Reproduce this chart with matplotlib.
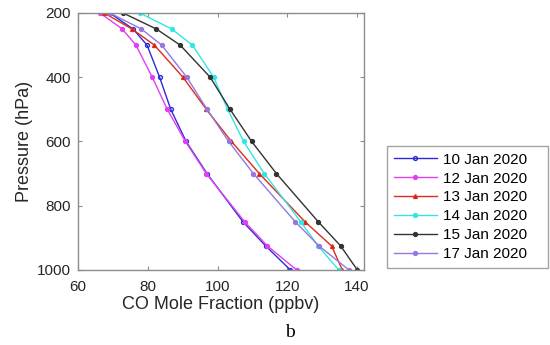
import matplotlib
matplotlib.use("Agg")
import matplotlib.pyplot as plt
import numpy as np

plt.rcParams['font.family'] = ['Liberation Sans', 'DejaVu Sans']

# pressure levels (hPa)
pressure = [200, 250, 300, 400, 500, 600, 700, 850, 925, 1000]

# CO mole fraction (ppbv) per day
co_10jan = [69.1, 75.8, 79.8, 83.4, 86.6, 91.0, 97.0, 107.3, 113.8, 120.9]
co_12jan = [66.3, 72.7, 76.6, 81.3, 85.6, 90.8, 96.8, 107.8, 114.3, 122.7]
co_13jan = [67.5, 75.5, 81.9, 90.1, 96.8, 104.0, 112.0, 125.1, 132.7, 135.8]
co_14jan = [77.7, 86.9, 92.8, 98.9, 102.9, 107.5, 113.4, 123.9, 128.8, 134.8]
co_15jan = [72.9, 82.5, 89.3, 97.9, 103.6, 109.8, 116.9, 128.9, 135.3, 140.1]
co_17jan = [69.1, 78.2, 84.0, 91.2, 97.0, 103.2, 110.3, 122.3, 129.1, 137.7]

labels = ['10 Jan 2020', '12 Jan 2020', '13 Jan 2020', '14 Jan 2020',
          '15 Jan 2020', '17 Jan 2020']
series = [co_10jan, co_12jan, co_13jan, co_14jan, co_15jan, co_17jan]
colors = ['#2b2bd9', '#e040f0', '#e02a1a', '#33e6e6', '#333333', '#9477e0']
markers = ['o', 'o', '^', 'o', 'o', 'o']
mfc = ['none', '#e040f0', '#8a2a10', '#33e6e6', '#333333', '#9477e0']

fig = plt.figure(figsize=(5.5, 3.45), dpi=100)
ax = fig.add_axes([0.1418, 0.2174, 0.52, 0.745])

for vals, lab, c, m, fc in zip(series, labels, colors, markers, mfc):
    ax.plot(vals, pressure, color=c, marker=m, markersize=2.8, lw=1.0,
            markerfacecolor=fc, markeredgecolor=c, label=lab)

ax.set_xlim(60, 142)
ax.set_ylim(1000, 200)
ax.set_xticks([60, 80, 100, 120, 140])
ax.set_yticks([200, 400, 600, 800, 1000])
ax.tick_params(direction='in', top=True, right=True, labelsize=11,
               colors='#8c8c8c', labelcolor='#262626', length=3, width=0.8)
ax.tick_params(axis='x', pad=7)
ax.tick_params(axis='y', pad=5)
for sp in ax.spines.values():
    sp.set_color('#8c8c8c')
    sp.set_linewidth(1.0)

ax.set_xlabel('CO Mole Fraction (ppbv)', fontsize=13, color='#262626', labelpad=2)
ax.set_ylabel('Pressure (hPa)', fontsize=13, color='#262626', labelpad=3)

leg = fig.legend(loc='lower left', bbox_to_anchor=(0.7036, 0.2232, 0.2927, 0.3536),
                 mode='expand', fontsize=11, labelspacing=0.32, handlelength=2.8,
                 handletextpad=0.4, borderpad=0.45, fancybox=False,
                 frameon=True, borderaxespad=0)
leg.get_frame().set_edgecolor('#8c8c8c')
leg.get_frame().set_linewidth(1.0)

fig.text(0.527, 0.022, 'b', fontsize=14, family='Liberation Serif', ha='center')

fig.savefig('out.png', dpi=100)
